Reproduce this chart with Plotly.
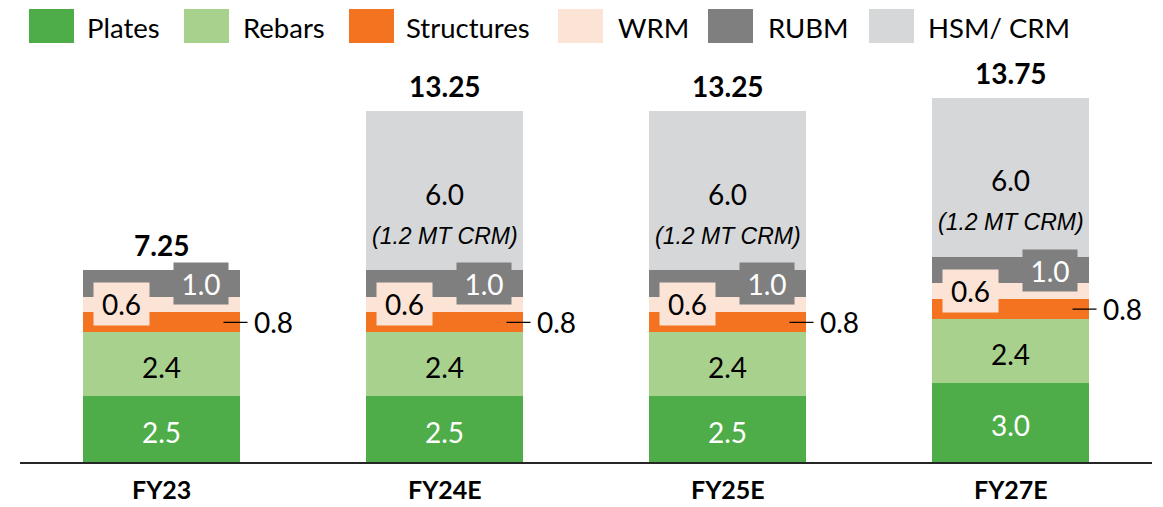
import plotly.graph_objects as go

# ---- data ----
categories = ["FY23", "FY24E", "FY25E", "FY27E"]
plates = [2.5, 2.5, 2.5, 3.0]
rebars = [2.4, 2.4, 2.4, 2.4]
structures = [0.75, 0.75, 0.75, 0.75]
wrm = [0.6, 0.6, 0.6, 0.6]
rubm = [1.0, 1.0, 1.0, 1.0]
hsm_crm = [0.0, 6.0, 6.0, 6.0]
crm_note = ["", "(1.2 MT CRM)", "(1.2 MT CRM)", "(1.2 MT CRM)"]
series_names = ["Plates", "Rebars", "Structures", "WRM", "RUBM", "HSM/ CRM"]

# ---- styles ----
colors = ["#4EAD48", "#A9D18E", "#F37321", "#FBE3D6", "#7F7F7F", "#D6D7D9"]
FONT = "Lato"
W, H = 1163, 507
ML, MR, MT, MB = 20, 11, 60, 45
PW, PH = W - ML - MR, H - MT - MB
PX_PER_UNIT = 26.48
YMAX = PH / PX_PER_UNIT

series = [plates, rebars, structures, wrm, rubm, hsm_crm]
fig = go.Figure()
for name, vals, col in zip(series_names, series, colors):
    fig.add_trace(go.Bar(x=categories, y=vals, name=name, marker=dict(color=col, line=dict(width=0)),
                         showlegend=False, hoverinfo="x+y+name"))

ann = []
for i, cat in enumerate(categories):
    b0 = 0.0
    b1 = b0 + plates[i]
    b2 = b1 + rebars[i]
    b3 = b2 + structures[i]
    b4 = b3 + wrm[i]
    b5 = b4 + rubm[i]
    b6 = b5 + hsm_crm[i]
    # plates
    ann.append(dict(x=cat, y=(b0 + b1) / 2, text=f"{plates[i]:.1f}", yshift=-3,
                    font=dict(size=28, color="white")))
    # rebars
    ann.append(dict(x=cat, y=(b1 + b2) / 2, text=f"{rebars[i]:.1f}", yshift=-3,
                    font=dict(size=28, color="black")))
    # structures (outside with leader)
    ann.append(dict(x=cat, y=(b2 + b3) / 2, text=f"{structures[i]:.1f}", xshift=62,
                    showarrow=True, arrowhead=0, arrowwidth=1.2, arrowcolor="black",
                    ax=50, ay=0, standoff=0, startstandoff=5, font=dict(size=28, color="black")))
    # wrm boxed
    ann.append(dict(x=cat, y=(b3 + b4) / 2, text=f"{wrm[i]:.1f}", xshift=-40,
                    bgcolor=colors[3], width=51, height=38, borderpad=2,
                    font=dict(size=28, color="black")))
    # rubm boxed
    ann.append(dict(x=cat, y=(b4 + b5) / 2, text=f"{rubm[i]:.1f}", xshift=39,
                    bgcolor=colors[4], width=50, height=37, borderpad=2,
                    font=dict(size=28, color="white")))
    if hsm_crm[i] > 0:
        ann.append(dict(x=cat, y=(b5 + b6) / 2, text=f"{hsm_crm[i]:.1f}", yshift=-3,
                        font=dict(size=28, color="black")))
        ann.append(dict(x=cat, y=(b5 + b6) / 2, text=f"<i>{crm_note[i]}</i>", yshift=-45,
                        font=dict(size=23, color="black", family="Liberation Sans")))
    # total
    ann.append(dict(x=cat, y=b6, text=f"<b>{b6:.2f}</b>", yshift=25,
                    font=dict(size=28, color="black")))
    # category label
    ann.append(dict(x=cat, y=0, text=f"<b>{cat}</b>", yshift=-27, borderpad=0,
                    font=dict(size=25, color="black")))

for a in ann:
    a.setdefault("showarrow", False)
    a.setdefault("xref", "x")
    a.setdefault("yref", "y")
    a.setdefault("yanchor", "middle")
    a.setdefault("xanchor", "center")

# ---- manual legend (pixel layout -> paper coords) ----
def px_x(X):
    return (X - ML) / PW

def px_y(Y):
    return (H - MB - Y) / PH

leg_rect_x = [29, 184, 349, 558, 708, 869]
leg_text_x = [85, 241, 404, 616, 766, 926]
shapes = []
for name, col, rx, tx in zip(series_names, colors, leg_rect_x, leg_text_x):
    shapes.append(dict(type="rect", xref="paper", yref="paper",
                       x0=px_x(rx), x1=px_x(rx + 45), y0=px_y(43), y1=px_y(9),
                       fillcolor=col, line=dict(width=0), layer="above"))
    ann.append(dict(xref="paper", yref="paper", x=px_x(tx), y=px_y(27), text=name,
                    xanchor="left", yanchor="middle", showarrow=False,
                    font=dict(size=27.5, color="black")))

fig.update_layout(
    barmode="stack",
    bargap=0.444,
    width=W, height=H,
    margin=dict(l=ML, r=MR, t=MT, b=MB, pad=0),
    paper_bgcolor="white",
    plot_bgcolor="white",
    font=dict(family=FONT, color="black"),
    annotations=ann,
    shapes=shapes,
    showlegend=False,
    xaxis=dict(range=[-0.5, 3.5], showline=True, linecolor="#262626", linewidth=1.6,
               showticklabels=False, ticks="", showgrid=False, zeroline=False, fixedrange=True),
    yaxis=dict(range=[0, YMAX], visible=False, showgrid=False, zeroline=False, fixedrange=True),
)

fig.write_html("out.html", config={"displayModeBar": False},
               post_script="document.body.style.margin='0';document.body.style.overflow='hidden';")
